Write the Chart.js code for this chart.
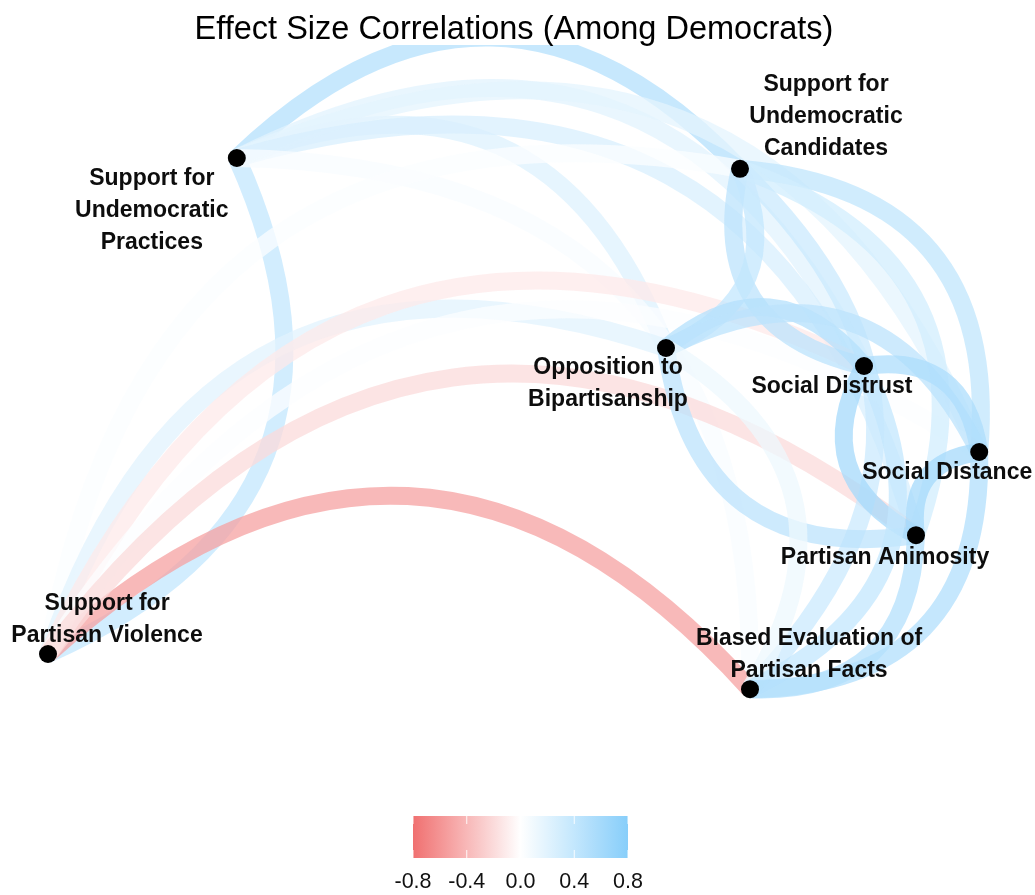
<!DOCTYPE html>
<html lang="en">
<head>
<meta charset="UTF-8">
<title>Effect Size Correlations (Among Democrats)</title>
<script src="https://cdn.jsdelivr.net/npm/chart.js"></script>
<style>
  body { margin: 0; background: #fff; }
  #wrap { width: 1035px; height: 895px; }
</style>
</head>
<body>
<div id="wrap"><canvas id="net" width="1035" height="895"></canvas></div>
<script>
// measures (network nodes) and their layout coordinates
const nodeNames = ['practices', 'candidates', 'opposition', 'distrust', 'distance', 'animosity', 'biased', 'violence'];
const nodeX = [-0.658, 0.600, 0.415, 0.910, 1.198, 1.040, 0.625, -1.130];
const nodeY = [0.605, 0.578, 0.130, 0.085, -0.130, -0.338, -0.723, -0.635];
const nodeLabels = [
  ['Support for', 'Undemocratic', 'Practices'],
  ['Support for', 'Undemocratic', 'Candidates'],
  ['Opposition to', 'Bipartisanship'],
  ['Social Distrust'],
  ['Social Distance'],
  ['Partisan Animosity'],
  ['Biased Evaluation of', 'Partisan Facts'],
  ['Support for', 'Partisan Violence']
];
// where each label block sits relative to its node (px)
const labelOffset = [[-85, 53], [86, -52], [-58, 36], [-32, 21], [-32, 21], [-31, 22], [59, -35], [59, -34]];

// pairwise effect size correlations
const edgeFrom  = ['practices', 'practices', 'practices', 'practices', 'practices', 'practices', 'practices',
                   'violence', 'violence', 'violence', 'violence', 'violence', 'violence',
                   'distrust', 'candidates', 'candidates', 'candidates', 'candidates',
                   'opposition', 'opposition', 'animosity', 'opposition',
                   'animosity', 'distrust', 'distrust', 'animosity', 'distance', 'animosity'];
const edgeTo    = ['candidates', 'violence', 'opposition', 'distrust', 'distance', 'animosity', 'biased',
                   'biased', 'candidates', 'opposition', 'distrust', 'distance', 'animosity',
                   'candidates', 'opposition', 'distance', 'animosity', 'biased',
                   'distrust', 'distance', 'opposition', 'biased',
                   'distrust', 'distance', 'biased', 'distance', 'biased', 'biased'];
const edgeValue = [0.50, 0.40, 0.22, 0.20, 0.18, 0.26, 0.05,
                   -0.52, 0.03, 0.20, -0.12, 0.02, -0.20,
                   0.45, 0.40, 0.42, 0.30, 0.35,
                   0.50, 0.45, 0.45, 0.12,
                   0.60, 0.55, 0.40, 0.60, 0.52, 0.50];

const legendTicks = [-0.8, -0.4, 0.0, 0.4, 0.8];

const LOW = [240, 112, 112];
const MID = [255, 255, 255];
const HIGH = [135, 206, 250];
const LIMIT = 0.8;

function corrColour(v) {
  const t = Math.max(-1, Math.min(1, v / LIMIT));
  const end = t < 0 ? LOW : HIGH;
  const a = Math.abs(t);
  const c = MID.map((m, i) => Math.round(m + (end[i] - m) * a));
  return 'rgb(' + c.join(',') + ')';
}

const FONT = '"Liberation Sans", Arial, sans-serif';

// curved edges, bent to the left of the from -> to direction
const arcEdges = {
  id: 'arcEdges',
  beforeDatasetsDraw(chart) {
    const { ctx, chartArea, scales } = chart;
    ctx.save();
    ctx.beginPath();
    ctx.rect(chartArea.left, chartArea.top, chartArea.width, chartArea.height);
    ctx.clip();
    ctx.lineWidth = 18;
    ctx.lineCap = 'butt';
    ctx.globalAlpha = 0.75;
    edgeFrom.forEach((f, i) => {
      const a = nodeNames.indexOf(f), b = nodeNames.indexOf(edgeTo[i]);
      const x1 = scales.x.getPixelForValue(nodeX[a]), y1 = scales.y.getPixelForValue(nodeY[a]);
      const x2 = scales.x.getPixelForValue(nodeX[b]), y2 = scales.y.getPixelForValue(nodeY[b]);
      const dx = x2 - x1, dy = y2 - y1;
      const cx = (x1 + x2) / 2 + dy * 0.5;
      const cy = (y1 + y2) / 2 - dx * 0.5;
      ctx.strokeStyle = corrColour(edgeValue[i]);
      ctx.beginPath();
      ctx.moveTo(x1, y1);
      ctx.quadraticCurveTo(cx, cy, x2, y2);
      ctx.stroke();
    });
    ctx.restore();

    // node labels
    ctx.save();
    ctx.font = 'bold 23px ' + FONT;
    ctx.fillStyle = '#0d0d0d';
    ctx.textAlign = 'center';
    ctx.textBaseline = 'middle';
    nodeLabels.forEach((lines, i) => {
      const px = scales.x.getPixelForValue(nodeX[i]) + labelOffset[i][0];
      const py = scales.y.getPixelForValue(nodeY[i]) + labelOffset[i][1];
      const top = py - (lines.length - 1) * 32 / 2;
      lines.forEach((s, k) => ctx.fillText(s, px, top + k * 32));
    });
    ctx.restore();
  },
  afterDraw(chart) {
    const { ctx } = chart;
    ctx.save();
    // title
    ctx.font = '32.5px ' + FONT;
    ctx.fillStyle = '#000';
    ctx.textAlign = 'center';
    ctx.textBaseline = 'alphabetic';
    ctx.fillText('Effect Size Correlations (Among Democrats)', 514, 39);

    // colour bar
    const bx = 413, bw = 215, by = 816, bh = 42;
    const grad = ctx.createLinearGradient(bx, 0, bx + bw, 0);
    for (let k = 0; k <= 16; k++) {
      const v = -LIMIT + k * (2 * LIMIT / 16);
      grad.addColorStop(k / 16, corrColour(v));
    }
    ctx.fillStyle = grad;
    ctx.fillRect(bx, by, bw, bh);
    ctx.strokeStyle = 'rgba(255,255,255,0.9)';
    ctx.lineWidth = 1;
    ctx.font = '21.5px ' + FONT;
    ctx.fillStyle = '#111';
    ctx.textBaseline = 'alphabetic';
    legendTicks.forEach(v => {
      const tx = bx + (v + LIMIT) / (2 * LIMIT) * bw;
      ctx.beginPath();
      ctx.moveTo(tx, by); ctx.lineTo(tx, by + 8);
      ctx.moveTo(tx, by + bh - 8); ctx.lineTo(tx, by + bh);
      ctx.stroke();
      ctx.fillText(v.toFixed(1), tx, 888);
    });
    ctx.restore();
  }
};

new Chart(document.getElementById('net'), {
  type: 'scatter',
  data: {
    datasets: [{
      data: nodeX.map((x, i) => ({ x: x, y: nodeY[i] })),
      pointRadius: 9,
      pointBackgroundColor: '#000',
      pointBorderWidth: 0,
      clip: false
    }]
  },
  options: {
    responsive: false,
    animation: false,
    layout: { padding: { left: 10, right: 10, top: 45, bottom: 175 } },
    scales: {
      x: { type: 'linear', min: -1.225, max: 1.3125, display: false },
      y: { type: 'linear', min: -0.8, max: 0.8875, display: false }
    },
    plugins: { legend: { display: false }, tooltip: { enabled: false } }
  },
  plugins: [arcEdges]
});
</script>
</body>
</html>
